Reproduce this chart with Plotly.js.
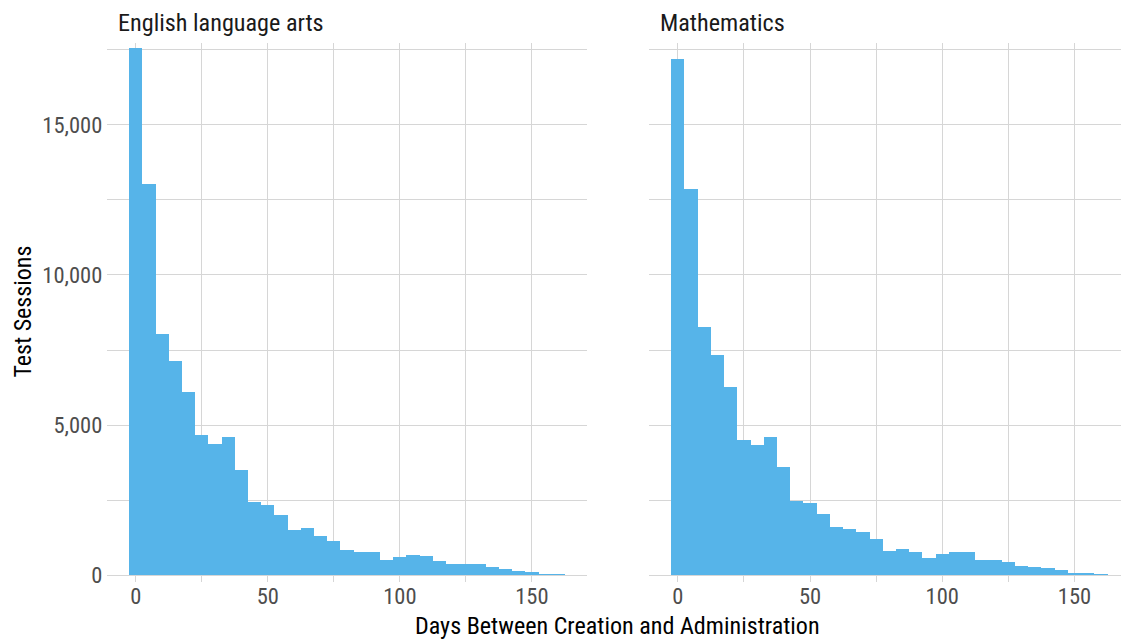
<!DOCTYPE html>
<html>
<head>
<meta charset="utf-8">
<script src="https://cdn.plot.ly/plotly-3.0.1.min.js"></script>
<style>html,body{margin:0;padding:0;background:#fff;}#chart{width:1121px;height:641px;}</style>
</head>
<body>
<div id="chart"></div>
<script>
// Bin centres (days), bin width 5
const days = [0,5,10,15,20,25,30,35,40,45,50,55,60,65,70,75,80,85,90,95,100,105,110,115,120,125,130,135,140,145,150,155,160];
// English language arts counts
const ela = [17550,13040,8040,7140,6100,4675,4380,4600,3510,2440,2340,2010,1510,1580,1310,1145,845,780,780,512,610,680,645,480,380,380,356,256,215,140,85,50,18];
// Mathematics counts
const math = [17210,12880,8270,7345,6270,4510,4345,4585,3605,2475,2415,2045,1590,1550,1420,1185,815,855,755,555,690,755,755,488,488,422,289,255,225,155,60,55,22];
const panelTitles = ["English language arts", "Mathematics"];
const xTickVals = [0,25,50,75,100,125,150];
const xTickText = ["0","","50","","100","","150"];
const yTickVals = [0,2500,5000,7500,10000,12500,15000,17500];
const yTickText = ["0","","5,000","","10,000","","15,000",""];
const xTitle = "Days Between Creation and Administration";
const yTitle = "Test Sessions";

const W = 1121, H = 641;
const FONT = '"Liberation Sans Narrow", "Roboto Condensed", "Arial Narrow", "Liberation Sans", sans-serif';
const BAR = '#56B4E9';
const GRID = '#d6d6d6';

const px = v => v / W;
const py = v => 1 - v / H;

const traces = [
  {type:'bar', x: days, y: ela, width: 5, marker:{color:BAR, line:{width:0}}, xaxis:'x', yaxis:'y', hoverinfo:'x+y'},
  {type:'bar', x: days, y: math, width: 5, marker:{color:BAR, line:{width:0}}, xaxis:'x2', yaxis:'y2', hoverinfo:'x+y'}
];

const xCommon = {
  tickmode:'array', tickvals:xTickVals, ticktext:xTickText,
  showgrid:true, gridcolor:GRID, gridwidth:1,
  zeroline:false, showline:true, linecolor:GRID, linewidth:1,
  ticks:'outside', ticklen:6, tickcolor:GRID, tickwidth:1,
  ticklabelstandoff:-5,
  tickfont:{family:FONT, size:22.5, color:'#4d4d4d'},
  fixedrange:true
};
const yCommon = {
  tickmode:'array', tickvals:yTickVals, ticktext:yTickText,
  range:[0,17723], showgrid:true, gridcolor:GRID, gridwidth:1,
  zeroline:false, showline:false, ticks:'',
  ticklabelstandoff:4,
  tickfont:{family:FONT, size:22.5, color:'#4d4d4d'},
  domain:[py(575), py(43.3)], fixedrange:true
};

const layout = {
  width:W, height:H,
  margin:{l:0,r:0,t:0,b:0},
  paper_bgcolor:'#fff', plot_bgcolor:'#fff',
  showlegend:false, bargap:0,
  xaxis: Object.assign({}, xCommon, {domain:[px(107.3), px(586.7)], range:[-10.75,170.75], anchor:'y'}),
  xaxis2: Object.assign({}, xCommon, {domain:[px(649.4), 1], range:[-10.75,167.6], anchor:'y2'}),
  yaxis: Object.assign({}, yCommon, {anchor:'x', showticklabels:true}),
  yaxis2: Object.assign({}, yCommon, {anchor:'x2', showticklabels:false}),
  annotations:[
    {text:panelTitles[0], xref:'paper', yref:'paper', x:px(116), y:py(23.5), xanchor:'left', yanchor:'middle', showarrow:false, font:{family:FONT, size:24.2, color:'#1a1a1a'}},
    {text:panelTitles[1], xref:'paper', yref:'paper', x:px(658), y:py(23.5), xanchor:'left', yanchor:'middle', showarrow:false, font:{family:FONT, size:24.2, color:'#1a1a1a'}},
    {text:xTitle, xref:'paper', yref:'paper', x:px(617.5), y:py(626), xanchor:'center', yanchor:'middle', showarrow:false, font:{family:FONT, size:24.1, color:'#000'}},
    {text:yTitle, xref:'paper', yref:'paper', x:px(22), y:py(311.5), xanchor:'center', yanchor:'middle', textangle:-90, showarrow:false, font:{family:FONT, size:24, color:'#000'}}
  ]
};

Plotly.newPlot('chart', traces, layout, {displayModeBar:false, staticPlot:true});
</script>
</body>
</html>
